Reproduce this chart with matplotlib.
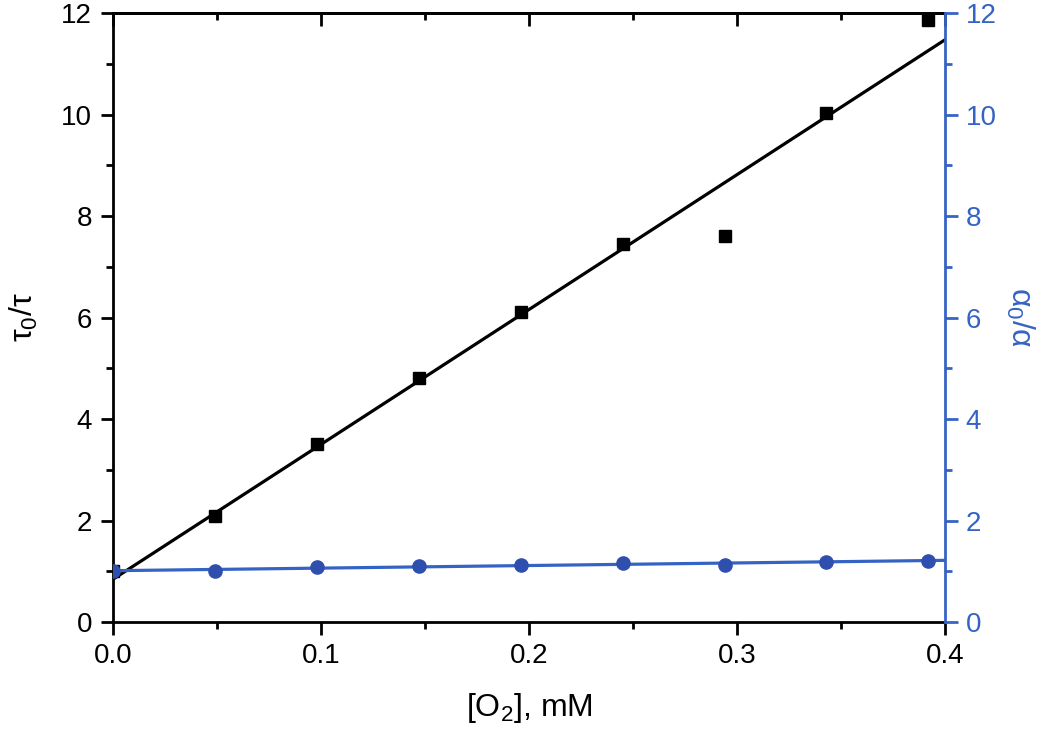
"""
Stern-Volmer style plot: tau0/tau and alpha0/alpha against oxygen concentration.
"""

import matplotlib.pyplot as plt
import numpy as np
from matplotlib.ticker import MultipleLocator, FormatStrFormatter

plt.rcParams['font.family'] = ['Liberation Sans', 'DejaVu Sans']
plt.rcParams['mathtext.fontset'] = 'custom'
plt.rcParams['mathtext.rm'] = 'Liberation Sans'
plt.rcParams['mathtext.it'] = 'Liberation Sans:italic'

blue = '#3563c4'
blue_dark = '#2f4fae'

#---------------------------------------
# Data
#---------------------------------------
o2_conc = [0.0, 0.049, 0.098, 0.147, 0.196, 0.245, 0.294, 0.343, 0.392]
tau_ratio = [1.0, 2.08, 3.51, 4.81, 6.11, 7.45, 7.61, 10.03, 11.86]
alpha_ratio = [1.0, 1.01, 1.09, 1.10, 1.12, 1.16, 1.12, 1.19, 1.21]

# Linear fits
tau_fit = np.polyfit(o2_conc, tau_ratio, 1)
alpha_fit = np.polyfit(o2_conc, alpha_ratio, 1)
x_fit = np.array([0.0, 0.4])

#---------------------------------------
# Plot
#---------------------------------------
fig = plt.figure(figsize=(10.5, 7.39), dpi=100)
ax1 = fig.add_axes([0.1076, 0.1583, 0.7924, 0.8241])
ax2 = ax1.twinx()

ax1.plot(x_fit, np.polyval(tau_fit, x_fit), color='black', linewidth=2.3, zorder=3)
ax1.plot(o2_conc, tau_ratio, linestyle='none', marker='s', markersize=8.5, color='black', zorder=4)

ax2.plot(x_fit, np.polyval(alpha_fit, x_fit), color=blue, linewidth=2.3, zorder=3)
ax2.plot(o2_conc, alpha_ratio, linestyle='none', marker='o', markersize=9.5, color=blue_dark, zorder=4)

ax1.set_xlim(0, 0.4)
ax1.set_ylim(0, 12)
ax2.set_ylim(0, 12)

ax1.xaxis.set_major_locator(MultipleLocator(0.1))
ax1.xaxis.set_minor_locator(MultipleLocator(0.05))
ax1.xaxis.set_major_formatter(FormatStrFormatter('%.1f'))
ax1.yaxis.set_major_locator(MultipleLocator(2))
ax1.yaxis.set_minor_locator(MultipleLocator(1))
ax2.yaxis.set_major_locator(MultipleLocator(2))
ax2.yaxis.set_minor_locator(MultipleLocator(1))

# Spines
for side in ['left', 'bottom', 'top']:
    ax1.spines[side].set_linewidth(2)
ax1.spines['right'].set_visible(False)
for side in ['left', 'bottom', 'top']:
    ax2.spines[side].set_visible(False)
ax2.spines['right'].set_linewidth(2)
ax2.spines['right'].set_color(blue)

ax1.tick_params(which='major', direction='out', length=9, width=2, labelsize=20, pad=6)
ax1.tick_params(which='minor', direction='out', length=5, width=2)
ax2.tick_params(which='major', direction='out', length=9, width=2, labelsize=20, pad=6,
                color=blue, labelcolor=blue)
ax2.tick_params(which='minor', direction='out', length=5, width=2, color=blue)

# Top axis with inward ticks only
top = ax1.secondary_xaxis('top')
top.xaxis.set_major_locator(MultipleLocator(0.1))
top.xaxis.set_minor_locator(MultipleLocator(0.05))
top.tick_params(which='major', direction='in', length=9, width=2, labeltop=False)
top.tick_params(which='minor', direction='in', length=5, width=2)
top.spines['top'].set_linewidth(2)

ax1.set_xlabel(r'[O$_2$], mM', fontsize=23, labelpad=16)
ax1.set_ylabel(r'$\mathregular{\tau_0/\tau}$', fontsize=23, labelpad=15)
ax2.set_ylabel(r'$\mathregular{\alpha_0/\alpha}$', fontsize=23, color=blue, rotation=270, labelpad=28)

plt.savefig('out.png', dpi=100)
